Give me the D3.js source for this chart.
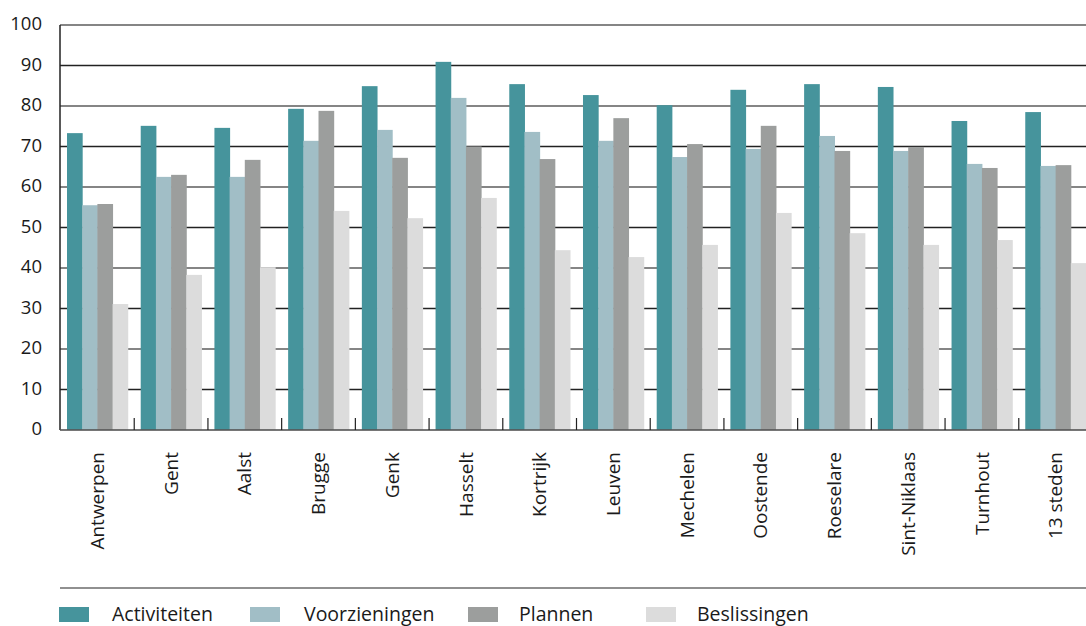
<!DOCTYPE html>
<html><head><meta charset="utf-8">
<script src="https://cdn.jsdelivr.net/npm/d3@7"></script>
<style>body{margin:0;background:#fff;} text{font-family:"Open Sans",sans-serif;fill:#1a1a1a;}</style>
</head><body>
<svg id="c" width="1086" height="626"></svg>
<script>
const categories = ["Antwerpen","Gent","Aalst","Brugge","Genk","Hasselt","Kortrijk","Leuven","Mechelen","Oostende","Roeselare","Sint-Niklaas","Turnhout","13 steden"];
const seriesNames = ["Activiteiten","Voorzieningen","Plannen","Beslissingen"];
const activiteiten  = [73.3,75.1,74.6,79.3,84.9,90.9,85.4,82.7,80.2,84.0,85.4,84.7,76.3,78.5];
const voorzieningen = [55.5,62.5,62.5,71.4,74.1,82.0,73.6,71.4,67.4,69.4,72.6,68.9,65.7,65.2];
const plannen       = [55.8,63.0,66.7,78.8,67.2,70.0,66.9,77.0,70.6,75.1,68.9,69.9,64.7,65.4];
const beslissingen  = [31.1,38.3,40.2,54.1,52.3,57.3,44.4,42.7,45.7,53.6,48.6,45.7,46.9,41.2];
const yTicks = [0,10,20,30,40,50,60,70,80,90,100];
const colors = ["#46949c","#a1bec6","#9c9e9d","#dcdcdc"];
const seriesValues = [activiteiten, voorzieningen, plannen, beslissingen];

(function(){
const svg = d3.select("#c");
const mL = 60, mR = 1086, mT = 25, mB = 430;
const y = d3.scaleLinear().domain([0,100]).range([mB, mT]);
const x = d3.scaleBand().domain(categories).range([mL, 1093]).paddingInner(0.176).paddingOuter(0.095);
const xs = d3.scaleBand().domain(seriesNames).range([0, x.bandwidth()]);

// gridlines
svg.append("g").selectAll("line").data(yTicks.filter(d=>d>0)).join("line")
  .attr("x1", mL).attr("x2", mR)
  .attr("y1", d=>y(d)).attr("y2", d=>y(d))
  .attr("stroke", d=> (d/10)%2===0 ? "#858585" : "#222")
  .attr("stroke-width", d=> (d/10)%2===0 ? 2 : 1.5);

// bars
const g = svg.append("g");
categories.forEach((c,i)=>{
  seriesNames.forEach((s,j)=>{
    g.append("rect")
      .attr("x", x(c)+xs(s)).attr("width", xs.bandwidth()+0.5)
      .attr("y", y(seriesValues[j][i])).attr("height", mB - y(seriesValues[j][i]))
      .attr("fill", colors[j]);
  });
});

// y axis line
svg.append("line").attr("x1",mL).attr("x2",mL).attr("y1",mT).attr("y2",mB).attr("stroke","#222").attr("stroke-width",1.5);
// baseline
svg.append("line").attr("x1",mL).attr("x2",mR).attr("y1",mB).attr("y2",mB).attr("stroke","#555").attr("stroke-width",2).attr("opacity",0.8);
// category boundary ticks
const half = x.step()*x.paddingInner()/2;
svg.append("g").selectAll("line").data(categories.slice(1)).join("line")
  .attr("x1", d=>x(d)-half).attr("x2", d=>x(d)-half)
  .attr("y1", mB-12).attr("y2", mB)
  .attr("stroke","#222").attr("stroke-width",1.2);

// y tick labels
svg.append("g").selectAll("text").data(yTicks).join("text")
  .attr("x", 42).attr("y", d=>y(d)-1).attr("dy","0.35em").attr("text-anchor","end")
  .attr("font-size", 18.5).text(d=>d);

// x labels
svg.append("g").selectAll("text").data(categories).join("text")
  .attr("transform", d=>`translate(${x(d)+x.bandwidth()/2},452) rotate(-90)`)
  .attr("dy","0.35em").attr("text-anchor","end").attr("font-size",19).text(d=>d);

// separator
svg.append("line").attr("x1",mL).attr("x2",mR).attr("y1",588).attr("y2",588).attr("stroke","#222").attr("stroke-width",1.2);

// legend
const legX = [59, 250, 468, 646];
const legTX = [112, 304, 519, 697];
const leg = svg.append("g");
seriesNames.forEach((s,j)=>{
  leg.append("rect").attr("x",legX[j]).attr("y",607).attr("width",30).attr("height",15).attr("fill",colors[j]);
  leg.append("text").attr("x",legTX[j]).attr("y",621).attr("font-size",19.5).text(s);
});
})();
</script>
</body></html>
